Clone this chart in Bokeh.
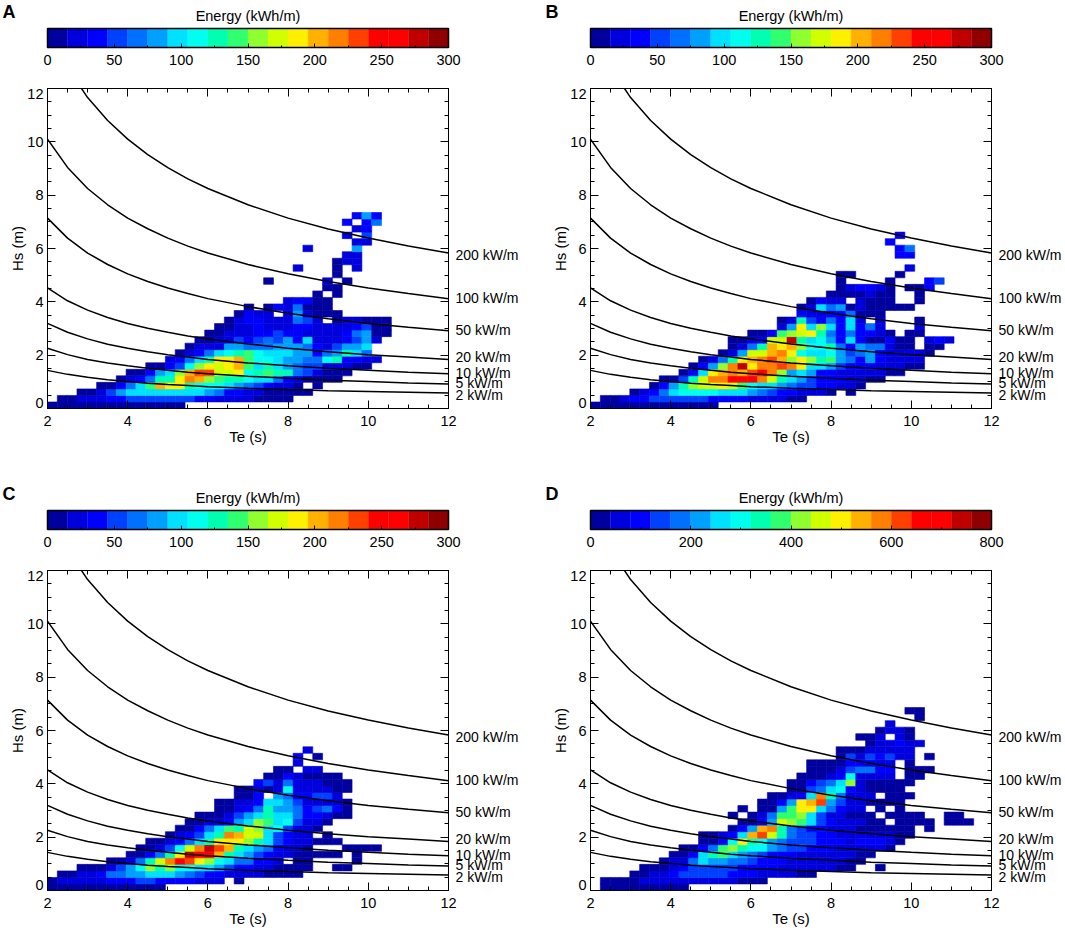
from bokeh.plotting import figure
from bokeh.layouts import column, row
from bokeh.models import ColumnDataSource, FixedTicker, Label, LinearAxis, LinearColorMapper
from bokeh.embed import file_html
from bokeh.resources import INLINE

FONT = "Liberation Sans"
N = None

jet = ["#00009f", "#0000dd", "#0000ff", "#0040ff", "#0070ff", "#00a0ff", "#00e0ff", "#00ffef", "#00ffb0", "#30ff70",
       "#90ff30", "#d0ff00", "#ffef00", "#ffb000", "#ff8000", "#ff4000", "#ff0000", "#ff0000", "#c00000", "#900000"]

# iso-power curves read along the axes
te_points = [2, 2.5, 3, 3.5, 4, 4.5, 5, 5.5, 6, 7, 8, 9, 10, 11, 12]
curve_2 = [1.43, 1.28, 1.17, 1.08, 1.01, .95, .90, .86, .82, .76, .71, .67, .64, .61, .58]
curve_5 = [2.26, 2.02, 1.84, 1.71, 1.60, 1.51, 1.43, 1.36, 1.30, 1.21, 1.13, 1.06, 1.01, .96, .92]
curve_10 = [3.19, 2.86, 2.61, 2.41, 2.26, 2.13, 2.02, 1.93, 1.84, 1.71, 1.60, 1.51, 1.43, 1.36, 1.30]
curve_20 = [4.52, 4.04, 3.69, 3.41, 3.19, 3.01, 2.86, 2.72, 2.61, 2.42, 2.26, 2.13, 2.02, 1.93, 1.84]
curve_50 = [7.14, 6.39, 5.83, 5.40, 5.05, 4.76, 4.52, 4.31, 4.12, 3.82, 3.57, 3.37, 3.19, 3.05, 2.92]
curve_100 = [10.10, 9.04, 8.25, 7.64, 7.14, 6.74, 6.39, 6.09, 5.83, 5.40, 5.05, 4.76, 4.52, 4.31, 4.12]
curve_200 = [14.28, 12.78, 11.66, 10.80, 10.10, 9.52, 9.03, 8.61, 8.25, 7.64, 7.14, 6.73, 6.39, 6.09, 5.83]
curves = [curve_2, curve_5, curve_10, curve_20, curve_50, curve_100, curve_200]
curve_names = ["2 kW/m", "5 kW/m", "10 kW/m", "20 kW/m", "50 kW/m", "100 kW/m", "200 kW/m"]
curve_label_hs = [.49, .94, 1.35, 1.95, 2.96, 4.16, 5.74]

te_bin = 0.245
hs_bin = 0.245

# colour band read per cell: (Hs row, first Te column, bands)
rows_a = [
    (0, 0, [0,0,0,0,0,0,0,0,0,0,0,0,0,0]),
    (1, 1, [0,0,1,1,1,2,2,3,3,3,3,3,3,3,2,2,1,1,1,1,0,0,0,0]),
    (2, 3, [0,0,1,3,5,6,6,6,6,6,6,6,6,5,4,2,2,1,1,0,0,0,0,0]),
    (3, 5, [0,0,2,4,6,9,13,12,12,8,7,7,7,6,5,4,3,2,1,1,0,N,0]),
    (4, 7, [0,1,2,4,8,8,12,14,13,10,9,8,8,7,6,6,4,2,1,0,0,0,0]),
    (5, 8, [0,0,2,5,6,10,13,15,15,11,11,12,7,8,9,8,8,4,3,1,0,0,0]),
    (6, 10, [0,0,2,3,7,10,12,11,12,13,9,6,8,6,5,4,3,3,1,1,1,0,0]),
    (7, 12, [1,2,4,6,8,12,12,13,9,7,7,6,5,5,4,4,7,8,2,2,1,1]),
    (8, 13, [0,1,2,4,6,7,8,9,7,6,6,6,5,5,2,4,5,8,6,4]),
    (9, 14, [0,1,1,1,5,5,4,4,4,5,5,5,4,2,1,3,5,5,6]),
    (10, 15, [0,0,1,1,3,2,3,4,3,5,2,6,1,1,1,2,3,5,1]),
    (11, 16, [0,0,1,1,1,2,2,3,2,2,1,1,1,1,2,4,5,0,0]),
    (12, 17, [0,0,1,1,2,1,1,1,2,2,1,1,1,1,2,3,0,0]),
    (13, 18, [0,1,2,2,1,1,1,4,3,1,N,0,1,1,0,0,0]),
    (14, 19, [0,2,1,1,N,1,5,1,0,0,0]),
    (15, 20, [0,N,0,2,1,4,0,0,0]),
    (16, 24, [1,2,2,0,0]),
    (17, 27, [0,N,0]),
    (18, 28, [0,0]),
    (19, 22, [0,N,N,N,N,N,1,N,0]),
    (20, 29, [0]),
    (21, 25, [1,N,N,N,0,N,1]),
    (22, 29, [0,1,1]),
    (23, 30, [1,1]),
    (24, 26, [1,N,N,N,N,5]),
    (25, 31, [1,1]),
    (26, 30, [1,N,3]),
    (27, 31, [1,2]),
    (28, 30, [2,N,2,4]),
    (29, 31, [2,5,2]),
]

rows_b = [
    (0, 0, [0,0,0,0,0,0,0,0,0,0,0,0,0]),
    (1, 1, [0,0,1,2,2,3,3,3,3,3,3,2,2,2,2,1,1,1,1,0,0]),
    (2, 4, [0,1,2,4,6,7,7,7,7,6,6,6,5,4,3,2,2,1,1,1,0,N,0]),
    (3, 6, [0,2,5,8,10,11,11,12,11,9,7,6,6,5,4,3,3,2,2,1,1,0]),
    (4, 7, [0,0,3,8,11,14,14,16,16,16,14,11,8,6,5,3,2,2,2,1,1,0,0]),
    (5, 9, [0,2,6,12,13,14,13,15,16,14,10,5,6,5,2,2,1,1,1,1,1,0,0]),
    (6, 10, [0,2,5,10,14,18,12,14,14,15,14,12,6,6,5,3,2,2,2,1,1,1,0,0]),
    (7, 11, [0,1,4,8,12,13,14,15,13,10,12,10,8,9,5,4,2,5,2,1,1,1,1]),
    (8, 13, [0,1,5,11,11,13,14,12,7,6,6,7,5,3,4,5,2,1,1,1,1,0]),
    (9, 14, [0,1,4,8,13,12,13,10,7,7,8,4,2,5,4,4,1,0,0,N,0,0]),
    (10, 14, [0,0,1,2,11,11,18,8,6,7,5,2,6,2,0,0,2,0,0,N,1,2,1]),
    (11, 16, [0,0,2,9,10,11,12,8,4,2,4,2,2,1,0,N,0,0]),
    (12, 19, [1,5,12,6,10,6,2,6,2,4,1,N,N,N,1]),
    (13, 19, [0,1,8,3,2,4,2,6,1,N,1,N,N,N,0]),
    (14, 21, [2,1,1,2,2,4,0,0,0]),
    (15, 21, [0,1,6,4,5,0,1,0,0,0,0,0]),
    (16, 22, [0,2,1,1,N,1,0,0,0,N,N,0]),
    (17, 24, [0,0,0,0,1,0,0,N,N,0]),
    (18, 25, [0,1,2,2,1,0,N,0,0,2]),
    (19, 25, [0,N,N,N,N,0,N,N,N,2,3]),
    (20, 25, [0,0,N,N,N,N,0]),
    (21, 32, [1]),
    (23, 31, [2,2]),
    (24, 31, [2,4]),
    (25, 30, [2]),
    (26, 31, [2]),
]

rows_c = [
    (0, 0, [0,0,0,0,0,0,0,0,0,0,0,0]),
    (1, 0, [0,1,1,1,1,1,2,2,2,3,3,2,2,2,2,1,1,1,N,0]),
    (2, 1, [0,0,1,1,2,4,4,5,5,6,6,6,5,4,3,2,2,1,1,1,1,0,0,0,0]),
    (3, 3, [0,0,0,1,3,5,7,10,8,10,7,7,6,6,5,3,2,2,1,1,0,0,0,0,N,N,0,0]),
    (4, 6, [0,0,1,4,8,11,14,16,15,12,10,7,6,4,4,2,2,1,N,0,0,N,N,N,N,0]),
    (5, 8, [0,0,2,4,8,12,18,17,17,13,8,6,5,3,2,1,1,0,0,0,0,0,N,0]),
    (6, 9, [0,0,1,3,7,11,14,18,15,13,8,6,5,4,2,1,1,0,N,N,N,0,0,0,0]),
    (7, 10, [0,0,1,2,4,6,8,12,12,12,10,8,6,3,2,1,1,0,0,0]),
    (8, 12, [0,1,2,3,6,8,14,13,11,11,6,3,2,1,1,N,0]),
    (9, 13, [0,0,2,4,6,9,8,11,10,6,7,3,1,1,0]),
    (10, 14, [0,0,1,1,2,5,6,10,9,6,7,3,1,1,0]),
    (11, 15, [0,0,0,1,3,5,6,8,6,6,4,2,2,1,0,0]),
    (12, 17, [0,0,1,2,4,8,5,5,4,2,3,4,2,0]),
    (13, 17, [0,0,1,1,2,6,6,5,3,1,1,1,1,0]),
    (14, 19, [0,0,2,N,5,4,2,2,3,3,1]),
    (15, 19, [0,0,1,0,1,7,1,1,1,1,0,0]),
    (16, 21, [2,3,1,4,1,1,1,0,0,0]),
    (17, 22, [0,0,2,1,0,0,0,0]),
    (18, 23, [0,0,N,1,1]),
    (19, 25, [1]),
    (20, 25, [2,N,0]),
    (21, 26, [1]),
]

rows_d = [
    (0, 1, [0,0,0,0,0,0,0,0,0]),
    (1, 1, [0,0,0,0,1,1,1,1,1,1,1,1,1,1,0,0,0]),
    (2, 4, [0,0,1,1,2,3,3,3,3,3,2,2,2,1,1,1,1,0,0]),
    (3, 5, [0,0,0,1,2,3,3,3,3,3,2,2,2,2,1,1,1,1,1,1,0,0,N,N,0]),
    (4, 7, [0,1,1,4,6,5,5,4,4,3,2,2,2,1,1,1,1,1,1,0,0]),
    (5, 8, [0,0,2,6,8,9,6,5,4,3,2,2,2,1,1,1,1,1,1,0,0]),
    (6, 9, [0,0,2,4,9,10,8,7,7,5,4,3,3,2,2,2,1,1,1,1,1,0]),
    (7, 11, [0,0,2,7,12,8,7,5,4,3,3,3,2,2,2,1,2,2,2,1,0]),
    (8, 11, [0,0,1,2,6,13,15,11,8,4,3,3,2,2,1,1,1,1,1,1,0,0]),
    (9, 14, [0,2,5,13,14,8,4,3,2,2,1,1,1,0,0,0,0,0,0,N,0]),
    (10, 15, [0,0,2,5,11,10,9,6,3,2,1,1,1,0,0,N,0,0,0,0,N,0,0,0]),
    (11, 14, [0,N,0,1,4,9,9,10,6,3,1,1,0,0,0,N,0,0,0,0,N,N,0,0]),
    (12, 15, [0,N,0,0,5,9,12,12,6,4,2,1,1,N,0,N,0]),
    (13, 17, [0,0,2,5,12,13,15,5,3,1,1,0,0,0,0]),
    (14, 18, [0,0,1,2,6,14,8,4,1,1,1,N,0,0,0]),
    (15, 20, [0,0,3,4,6,7,2,1,0,0,0,0]),
    (16, 20, [0,0,2,3,4,6,10,1,0,0,0,0,0]),
    (17, 21, [0,0,0,1,2,7,1,1,1,1,N,0,0]),
    (18, 22, [0,0,0,1,3,4,4,2,2,N,0,0,0]),
    (19, 22, [0,0,0,0,2,2,1,1,1,N,0]),
    (20, 25, [0,3,1,3,2,3,1,1,N,0]),
    (21, 25, [0,0,0,1,1,1,1,1]),
    (22, 28, [0,1,1,2,1,1]),
    (23, 27, [0,0,1,N,1,0]),
    (24, 29, [0,1,1,0]),
    (25, 30, [1]),
    (26, 33, [0]),
    (27, 32, [0,0]),
]


def style_axis(ax):
    ax.major_label_text_font = FONT
    ax.major_label_text_font_size = "14.5px"
    ax.major_label_text_color = "black"
    ax.axis_label_text_font = FONT
    ax.axis_label_text_font_size = "15px"
    ax.axis_label_text_font_style = "normal"
    ax.axis_label_text_color = "black"
    ax.axis_line_color = "black"
    ax.major_tick_line_color = "black"
    ax.minor_tick_line_color = "black"
    ax.major_tick_in = 8
    ax.major_tick_out = 0
    ax.minor_tick_in = 4
    ax.minor_tick_out = 0


def colorbar_figure(letter, vmax, ticks, minors, right):
    # the frame fills the whole figure, so the title and the letter stay inside it
    per_px = vmax / 401
    p = figure(frame_width=47 + 401 + right, frame_height=75, min_border=0,
               min_border_left=0, min_border_right=0, min_border_top=0, min_border_bottom=0,
               x_range=(-47 * per_px, (401 + right) * per_px), y_range=(-28 / 19, 1 + 28 / 19),
               toolbar_location=None, output_backend="svg")
    step = vmax / len(jet)
    p.quad(left=[i * step for i in range(len(jet))], right=[(i + 1) * step for i in range(len(jet))],
           bottom=0, top=1, fill_color=jet, line_color=jet, line_width=0.3)
    p.quad(left=[0], right=[vmax], bottom=[0], top=[1], fill_color=None, line_color="black", line_width=1.5)
    p.grid.visible = False
    p.yaxis.visible = False
    p.outline_line_color = None
    p.xaxis.ticker = FixedTicker(ticks=ticks, minor_ticks=minors)
    p.xaxis.fixed_location = 0
    style_axis(p.xaxis[0])
    p.xaxis.major_tick_in = 4
    p.xaxis.minor_tick_in = 2
    p.xaxis.major_label_standoff = 7
    p.xaxis.axis_line_color = None
    p.add_layout(Label(x=vmax / 2, y=1.68, text="Energy (kWh/m)", text_align="center", text_baseline="middle",
                       text_font=FONT, text_font_size="14.5px", text_color="black"))
    p.add_layout(Label(x=-45 * per_px, y=1.89, text=letter, text_align="left", text_baseline="middle",
                       text_font=FONT, text_font_size="18px", text_font_style="bold", text_color="black"))
    return p


def ticks_only(ticker, tick_values):
    ax = LinearAxis(ticker=ticker)
    style_axis(ax)
    ax.major_label_overrides = {t: "" for t in tick_values}
    ax.major_label_text_font_size = "1px"
    ax.major_label_standoff = 0
    return ax


def labels_only(tick_values, overrides):
    ax = LinearAxis(ticker=FixedTicker(ticks=tick_values, minor_ticks=[]))
    style_axis(ax)
    ax.axis_line_color = None
    ax.major_tick_line_color = None
    ax.major_tick_in = 0
    ax.major_label_overrides = overrides
    return ax


def heat_figure(rows, vmax, right, bottom):
    p = figure(frame_width=401, frame_height=320, min_border_left=47, min_border_right=right,
               min_border_top=13, min_border_bottom=bottom, x_range=(2, 12), y_range=(0, 12),
               x_axis_label="Te (s)", y_axis_location=None,
               toolbar_location=None, output_backend="svg")
    step = vmax / len(jet)
    left, rgt, low, top, energy = [], [], [], [], []
    for hs_row, first, bands in rows:
        for i, band in enumerate(bands):
            if band is None:
                continue
            left.append(2 + (first + i) * te_bin)
            rgt.append(2 + (first + i + 1) * te_bin)
            low.append(hs_row * hs_bin)
            top.append((hs_row + 1) * hs_bin)
            energy.append((band + 0.5) * step)
    src = ColumnDataSource(dict(left=left, right=rgt, bottom=low, top=top, energy=energy))
    mapper = LinearColorMapper(palette=jet, low=0, high=vmax)
    p.quad(left="left", right="right", bottom="bottom", top="top", source=src,
           fill_color={"field": "energy", "transform": mapper},
           line_color={"field": "energy", "transform": mapper}, line_width=0.6)
    for hs in curves:
        p.line(te_points, hs, line_color="black", line_width=1.5)
    p.grid.visible = False
    p.outline_line_color = "black"
    te_ticks = [2, 4, 6, 8, 10, 12]
    hs_ticks = [0, 2, 4, 6, 8, 10, 12]
    x_ticks = FixedTicker(ticks=te_ticks, minor_ticks=[2 + 0.5 * i for i in range(21)])
    y_ticks = FixedTicker(ticks=hs_ticks, minor_ticks=[0.5 * i for i in range(25)])
    p.xaxis.ticker = x_ticks
    style_axis(p.xaxis[0])
    p.xaxis.major_label_standoff = 7
    p.xaxis.axis_label_standoff = -1
    p.add_layout(ticks_only(y_ticks, hs_ticks), "left")
    p.add_layout(ticks_only(y_ticks, hs_ticks), "right")
    p.add_layout(ticks_only(x_ticks, te_ticks), "above")
    # the end labels of the reference sit just inside the frame
    hs_labels = {0.22: "0", 2: "2", 4: "4", 6: "6", 8: "8", 10: "10", 11.81: "12"}
    left_labels = labels_only(list(hs_labels), hs_labels)
    left_labels.axis_label = "Hs (m)"
    left_labels.major_label_standoff = 4
    left_labels.axis_label_standoff = -2
    p.add_layout(left_labels, "left")
    right_labels = labels_only(curve_label_hs, dict(zip(curve_label_hs, curve_names)))
    right_labels.major_label_text_font_size = "14px"
    right_labels.major_label_standoff = 7
    p.add_layout(right_labels, "right")
    return p


def panel(letter, rows, vmax, ticks, minors, right, bottom):
    # each figure sits in its own row so the column does not line their frames up
    return column(row(colorbar_figure(letter, vmax, ticks, minors, right)), row(heat_figure(rows, vmax, right, bottom)))


ticks_300 = [0, 50, 100, 150, 200, 250, 300]
minors_300 = [25 * i for i in range(13)]
ticks_800 = [0, 200, 400, 600, 800]
minors_800 = [100 * i for i in range(9)]

page = column(
    row(panel("A", rows_a, 300, ticks_300, minors_300, 95, 74), panel("B", rows_b, 300, ticks_300, minors_300, 74, 74)),
    row(panel("C", rows_c, 300, ticks_300, minors_300, 95, 41), panel("D", rows_d, 800, ticks_800, minors_800, 74, 41)),
)

open("out.html", "w").write(file_html(page, INLINE))
